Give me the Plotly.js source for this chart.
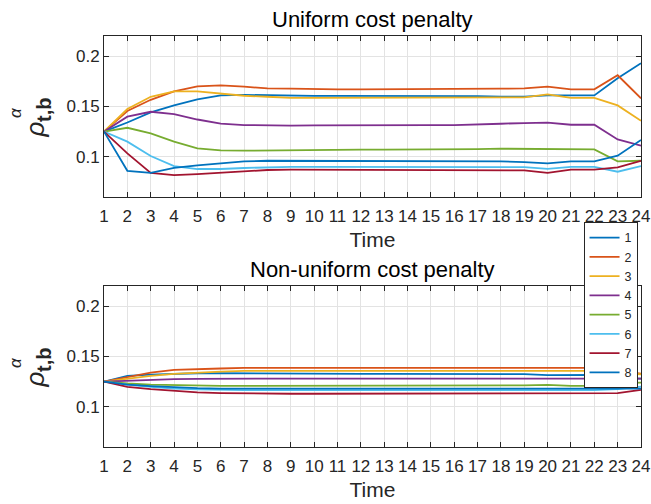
<!DOCTYPE html>
<html>
<head>
<meta charset="utf-8">
<script src="https://cdn.plot.ly/plotly-3.0.1.min.js"></script>
<style>html,body{margin:0;padding:0;background:#fff;}#chart{width:651px;height:504px;}</style>
</head>
<body>
<div id="chart"></div>
<script>
const time = [1,2,3,4,5,6,7,8,9,10,11,12,13,14,15,16,17,18,19,20,21,22,23,24];
const seriesNames = ['1','2','3','4','5','6','7','8'];
const colors = ['#0072BD','#D95319','#EDB120','#7E2F8E','#77AC30','#4DBEEE','#A2142F','#0072BD'];
const xTicks = time;
const yTicks = [0.1, 0.15, 0.2];
const yTickLabels = ['0.1', '0.15', '0.2'];

// Uniform cost penalty
const uni1 = [0.125,0.134,0.144,0.151,0.157,0.161,0.1615,0.161,0.1605,0.1605,0.1605,0.1605,0.1605,0.1605,0.1605,0.1605,0.1603,0.1597,0.1597,0.161,0.161,0.161,0.178,0.193];
const uni2 = [0.125,0.1454,0.1566,0.165,0.170,0.171,0.1696,0.168,0.1676,0.167,0.167,0.167,0.167,0.167,0.167,0.167,0.167,0.1676,0.168,0.1696,0.167,0.167,0.181,0.158];
const uni3 = [0.125,0.1474,0.1596,0.165,0.165,0.163,0.1606,0.1596,0.1586,0.1586,0.1586,0.1586,0.1586,0.1586,0.1586,0.1586,0.1586,0.1588,0.159,0.162,0.1586,0.1586,0.151,0.1358];
const uni4 = [0.125,0.1398,0.1447,0.1424,0.137,0.133,0.1315,0.131,0.131,0.1312,0.1314,0.1315,0.1315,0.1315,0.1315,0.1315,0.1318,0.1328,0.1335,0.134,0.1318,0.1318,0.1172,0.111];
const uni5 = [0.125,0.1288,0.1232,0.115,0.1083,0.1063,0.106,0.1063,0.1066,0.107,0.107,0.107,0.107,0.107,0.107,0.1073,0.1076,0.108,0.108,0.1073,0.1073,0.1073,0.0954,0.096];
const uni6 = [0.125,0.115,0.1007,0.0907,0.0878,0.0878,0.0888,0.0895,0.090,0.090,0.090,0.090,0.090,0.090,0.090,0.0904,0.0904,0.090,0.0897,0.088,0.090,0.090,0.0851,0.0907];
const uni7 = [0.125,0.1033,0.084,0.0818,0.0828,0.084,0.0855,0.0868,0.0871,0.0871,0.0871,0.0871,0.0871,0.0871,0.0871,0.0871,0.0871,0.0871,0.0865,0.084,0.0871,0.0871,0.0894,0.096];
const uni8 = [0.125,0.086,0.084,0.089,0.0914,0.0937,0.0954,0.096,0.096,0.096,0.096,0.096,0.096,0.096,0.096,0.096,0.096,0.0954,0.0947,0.0934,0.0954,0.0954,0.101,0.1166];

// Non-uniform cost penalty
const non1 = [0.125,0.1307,0.132,0.133,0.1333,0.1333,0.1331,0.1329,0.1328,0.1327,0.1327,0.1327,0.1327,0.1327,0.1327,0.1327,0.1327,0.1326,0.1324,0.1314,0.1317,0.1317,0.1287,0.128];
const non2 = [0.125,0.1297,0.134,0.1366,0.1376,0.138,0.1386,0.1386,0.1386,0.1386,0.1386,0.1386,0.1386,0.1386,0.1386,0.1386,0.1386,0.1386,0.1384,0.138,0.1386,0.1386,0.1356,0.133];
const non3 = [0.125,0.128,0.1307,0.1327,0.134,0.135,0.1356,0.1356,0.1356,0.1356,0.1356,0.1356,0.1356,0.1356,0.1356,0.1356,0.1356,0.1356,0.1355,0.1353,0.1356,0.1356,0.1336,0.1323];
const non4 = [0.125,0.126,0.1267,0.1274,0.1277,0.128,0.128,0.128,0.128,0.128,0.128,0.128,0.128,0.128,0.128,0.128,0.128,0.128,0.128,0.128,0.128,0.128,0.128,0.128];
const non5 = [0.125,0.1231,0.122,0.1215,0.121,0.1208,0.1208,0.1208,0.1208,0.1208,0.1208,0.1208,0.1208,0.1208,0.1208,0.1208,0.1208,0.1209,0.1212,0.1218,0.1208,0.1208,0.1234,0.124];
const non6 = [0.125,0.122,0.1198,0.118,0.1172,0.1167,0.1165,0.1165,0.1165,0.1165,0.1165,0.1165,0.1165,0.1165,0.1165,0.1165,0.1165,0.1165,0.1165,0.1165,0.1165,0.1165,0.1175,0.120];
const non7 = [0.125,0.1198,0.1175,0.1155,0.1142,0.1135,0.1131,0.1129,0.1129,0.1129,0.1129,0.1129,0.1129,0.1129,0.1129,0.1129,0.1129,0.1129,0.1129,0.1129,0.1129,0.1129,0.1135,0.1168];
const non8 = [0.125,0.122,0.1205,0.1192,0.1185,0.1181,0.118,0.118,0.118,0.118,0.118,0.118,0.118,0.118,0.118,0.118,0.118,0.118,0.118,0.118,0.118,0.118,0.1175,0.118];

const uniSeries = [uni1,uni2,uni3,uni4,uni5,uni6,uni7,uni8];
const nonSeries = [non1,non2,non3,non4,non5,non6,non7,non8];

const traces = [];
uniSeries.forEach((ys, i) => {
  traces.push({x: time, y: ys, type: 'scatter', mode: 'lines', name: seriesNames[i],
    line: {color: colors[i], width: 1.8}, xaxis: 'x', yaxis: 'y', legendgroup: seriesNames[i]});
});
nonSeries.forEach((ys, i) => {
  traces.push({x: time, y: ys, type: 'scatter', mode: 'lines', name: seriesNames[i],
    line: {color: colors[i], width: 1.8}, xaxis: 'x2', yaxis: 'y2', legendgroup: seriesNames[i], showlegend: false});
});

const FONT = 'Liberation Sans, Arial, sans-serif';
const axColor = '#262626';
const xBase = {range: [1, 24], tickvals: xTicks, ticktext: xTicks.map(String), ticks: 'inside', ticklen: 5,
  tickcolor: axColor, showline: true, linecolor: axColor, linewidth: 1, mirror: 'ticks',
  showgrid: true, gridcolor: '#e3e3e3', zeroline: false, ticklabelstandoff: 4,
  tickfont: {family: FONT, size: 17, color: axColor}};
const yBase = {range: [0.06, 0.22], tickvals: yTicks, ticktext: yTickLabels, ticks: 'inside', ticklen: 5,
  tickcolor: axColor, showline: true, linecolor: axColor, linewidth: 1, mirror: 'ticks',
  showgrid: true, gridcolor: '#e3e3e3', zeroline: false, tickfont: {family: FONT, size: 17, color: axColor}};

const topDom = [0.6083, 1];
const botDom = [0, 0.3917];
const shift = 0.6083;

function yLabelAnn(dy) {
  return [
    {text: '<i>ρ</i>', x: -0.1285, y: 0.7725 - dy, xref: 'paper', yref: 'paper', textangle: -90,
      showarrow: false, xanchor: 'center', yanchor: 'middle', font: {family: FONT, size: 26, color: axColor}},
    {text: '<i>α</i>', x: -0.1648, y: 0.8139 - dy, xref: 'paper', yref: 'paper', textangle: -90,
      showarrow: false, xanchor: 'center', yanchor: 'middle', font: {family: FONT, size: 17, color: axColor}},
    {text: '<b>t,b</b>', x: -0.1117, y: 0.82 - dy, xref: 'paper', yref: 'paper', textangle: -90,
      showarrow: false, xanchor: 'center', yanchor: 'middle', font: {family: FONT, size: 20, color: axColor}}
  ];
}

const layout = {
  width: 651, height: 504,
  margin: {l: 104, r: 10, t: 36, b: 57},
  paper_bgcolor: '#ffffff', plot_bgcolor: '#ffffff',
  font: {family: FONT, color: axColor},
  xaxis: Object.assign({}, xBase, {domain: [0, 1], anchor: 'y',
    title: {text: 'Time', font: {family: FONT, size: 21, color: axColor}, standoff: 6}}),
  yaxis: Object.assign({}, yBase, {domain: topDom, anchor: 'x'}),
  xaxis2: Object.assign({}, xBase, {domain: [0, 1], anchor: 'y2',
    title: {text: 'Time', font: {family: FONT, size: 21, color: axColor}, standoff: 6}}),
  yaxis2: Object.assign({}, yBase, {domain: botDom, anchor: 'x2'}),
  showlegend: true,
  legend: {x: 0.893, y: 0.5475, xanchor: 'left', yanchor: 'top', bgcolor: '#ffffff',
    bordercolor: axColor, borderwidth: 1, font: {family: FONT, size: 12.5, color: axColor},
    itemwidth: 30, entrywidth: 52, entrywidthmode: 'pixels', tracegroupgap: 0, traceorder: 'normal'},
  annotations: [
    {text: 'Uniform cost penalty', x: 0.5, y: 1.039, xref: 'paper', yref: 'paper', showarrow: false,
      xanchor: 'center', yanchor: 'middle', font: {family: FONT, size: 22, color: '#000'}},
    {text: 'Non-uniform cost penalty', x: 0.5, y: 0.4307, xref: 'paper', yref: 'paper', showarrow: false,
      xanchor: 'center', yanchor: 'middle', font: {family: FONT, size: 22, color: '#000'}}
  ].concat(yLabelAnn(0), yLabelAnn(shift))
};

Plotly.newPlot('chart', traces, layout, {displayModeBar: false, staticPlot: true});
</script>
</body>
</html>
